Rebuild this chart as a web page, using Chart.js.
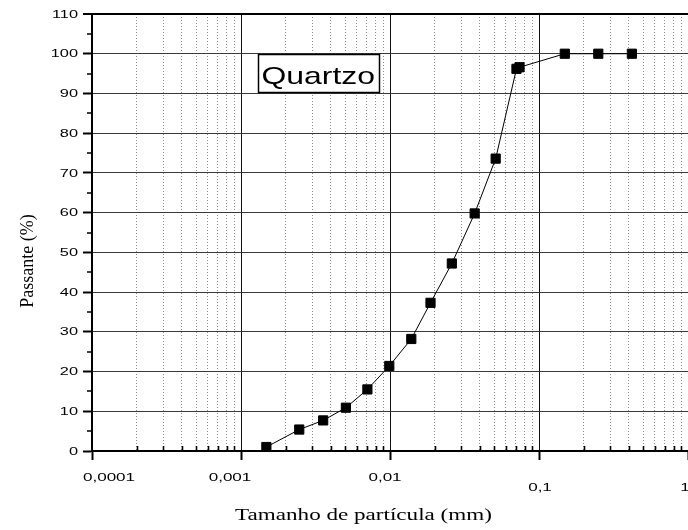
<!DOCTYPE html>
<html>
<head>
<meta charset="utf-8">
<script src="https://cdn.jsdelivr.net/npm/chart.js@4"></script>
<style>
  html, body { margin: 0; padding: 0; background: #fff; }
</style>
</head>
<body>
<canvas id="curva-granulometrica" width="688" height="530"></canvas>
<script>
// particle size (mm) and cumulative passing (%)
var tamanho = [0.00148, 0.00246, 0.00356, 0.00506, 0.00705, 0.00989, 0.0139, 0.0187,
               0.026, 0.037, 0.0512, 0.0706, 0.074, 0.149, 0.25, 0.42];
var passante = [1.0, 5.4, 7.7, 10.9, 15.5, 21.4, 28.2, 37.3,
                47.2, 59.8, 73.6, 96.2, 96.6, 100, 100, 100];

var decadas = [0.0001, 0.001, 0.01, 0.1, 1];
var decadaLabels = ['0,0001', '0,001', '0,01', '0,1', '1'];
var yLabels = [0, 10, 20, 30, 40, 50, 60, 70, 80, 90, 100, 110];

var canvas = document.getElementById('curva-granulometrica');

function isDecada(v) {
  if (v === undefined) return false;
  var e = Math.log10(v);
  return Math.abs(e - Math.round(e)) < 1e-6;
}

// stretched text, the labels are drawn wide
function texto(ctx, t, x, y, font, align, base, sx) {
  ctx.save();
  ctx.translate(x, y);
  ctx.scale(sx, 1);
  ctx.font = font;
  ctx.fillStyle = '#000';
  ctx.textAlign = align;
  ctx.textBaseline = base;
  ctx.fillText(t, 0, 0);
  ctx.restore();
}

var decoracao = {
  id: 'decoracao',
  afterDraw: function (chart) {
    var ctx = chart.ctx;
    var xs = chart.scales.x, ys = chart.scales.y;
    var area = chart.chartArea;

    // minor ticks: inward on x, outward on y
    ctx.save();
    ctx.strokeStyle = '#000';
    ctx.lineWidth = 1.6;
    ctx.beginPath();
    xs.ticks.forEach(function (t) {
      if (isDecada(t.value)) return;
      var px = Math.round(xs.getPixelForValue(t.value)) + 0.5;
      ctx.moveTo(px, area.bottom);
      ctx.lineTo(px, area.bottom - 5);
    });
    ys.ticks.forEach(function (t) {
      if (t.value % 10 === 0) return;
      var py = Math.round(ys.getPixelForValue(t.value));
      ctx.moveTo(area.left, py);
      ctx.lineTo(area.left - 5, py);
    });
    ctx.stroke();
    ctx.restore();

    // y tick labels
    yLabels.forEach(function (v) {
      texto(ctx, String(v), 78, ys.getPixelForValue(v) + 0.5,
        '11.5px "Liberation Sans", Arial, sans-serif', 'right', 'middle', 1.42);
    });

    // x tick labels (0,1 and 1 sit lower, as in the original plot)
    var ajuste = { '0,0001': [17, 0], '0,001': [-11, 0], '0,01': [-5, 0], '0,1': [1, 10], '1': [-3, 10] };
    decadas.forEach(function (v, i) {
      var lab = decadaLabels[i];
      var a = ajuste[lab];
      texto(ctx, lab, xs.getPixelForValue(v) + a[0], 481 + a[1],
        '11px "Liberation Sans", Arial, sans-serif', 'center', 'alphabetic', 1.55);
    });

    // axis titles
    texto(ctx, 'Tamanho de partícula (mm)', 363.5, 520,
      '17.5px "Liberation Serif", "Times New Roman", serif', 'center', 'alphabetic', 1.32);
    ctx.save();
    ctx.translate(33, 261);
    ctx.rotate(-Math.PI / 2);
    ctx.font = '18px "Liberation Serif", "Times New Roman", serif';
    ctx.fillStyle = '#000';
    ctx.textAlign = 'center';
    ctx.textBaseline = 'alphabetic';
    ctx.fillText('Passante (%)', 0, 0);
    ctx.restore();

    // sample name box
    ctx.save();
    ctx.fillStyle = '#fff';
    ctx.fillRect(258.5, 54.5, 121, 38);
    ctx.strokeStyle = '#000';
    ctx.lineWidth = 1.5;
    ctx.strokeRect(258.5, 54.5, 121, 38);
    ctx.restore();
    texto(ctx, 'Quartzo', 261.5, 83.5,
      '24px "Liberation Sans", Arial, sans-serif', 'left', 'alphabetic', 1.33);
  }
};

var myChart = new Chart(canvas, {
  type: 'line',
  data: {
    datasets: [{
      label: 'Quartzo',
      data: tamanho.map(function (x, i) { return { x: x, y: passante[i] }; }),
      borderColor: '#000',
      borderWidth: 1,
      backgroundColor: '#000',
      pointStyle: 'rect',
      pointRadius: 6.5,
      pointBorderWidth: 1,
      pointBorderColor: '#000',
      pointBackgroundColor: '#000',
      tension: 0,
      fill: false
    }]
  },
  options: {
    responsive: false,
    animation: false,
    layout: {
      autoPadding: false,
      padding: { left: 83, right: 0, top: 14, bottom: 70 }
    },
    scales: {
      x: {
        type: 'logarithmic',
        min: 0.0001,
        max: 1,
        afterBuildTicks: function (scale) {
          var t = [];
          decadas.forEach(function (d, i) {
            if (i === decadas.length - 1) { t.push({ value: d }); return; }
            for (var m = 1; m <= 9; m++) t.push({ value: Math.round(m * d * 1e6) / 1e6 });
          });
          scale.ticks = t;
        },
        ticks: { display: false },
        grid: {
          color: function (c) { return isDecada(c.tick && c.tick.value) ? '#111' : '#8c8c8c'; },
          lineWidth: 1,
          tickLength: 9,
          tickWidth: 2,
          tickColor: function (c) { return isDecada(c.tick && c.tick.value) ? '#000' : 'rgba(0,0,0,0)'; }
        },
        border: {
          color: '#000',
          width: 2,
          dash: function (c) {
            if (!c.tick || isDecada(c.tick.value)) return [];
            return [1, 2];
          }
        }
      },
      y: {
        min: 0,
        max: 110,
        ticks: { display: false, stepSize: 5 },
        grid: {
          color: function (c) {
            if (!c.tick || c.tick.value % 10 !== 0) return 'rgba(0,0,0,0)';
            return c.tick.value === 110 ? '#000' : '#3a3a3a';
          },
          lineWidth: function (c) { return c.tick && c.tick.value === 110 ? 2 : 1; },
          tickLength: 9,
          tickWidth: 2,
          tickColor: function (c) { return c.tick && c.tick.value % 10 === 0 ? '#000' : 'rgba(0,0,0,0)'; }
        },
        border: { color: '#000', width: 2 }
      }
    },
    plugins: {
      legend: { display: false },
      tooltip: { enabled: false }
    }
  },
  plugins: [decoracao]
});
</script>
</body>
</html>
